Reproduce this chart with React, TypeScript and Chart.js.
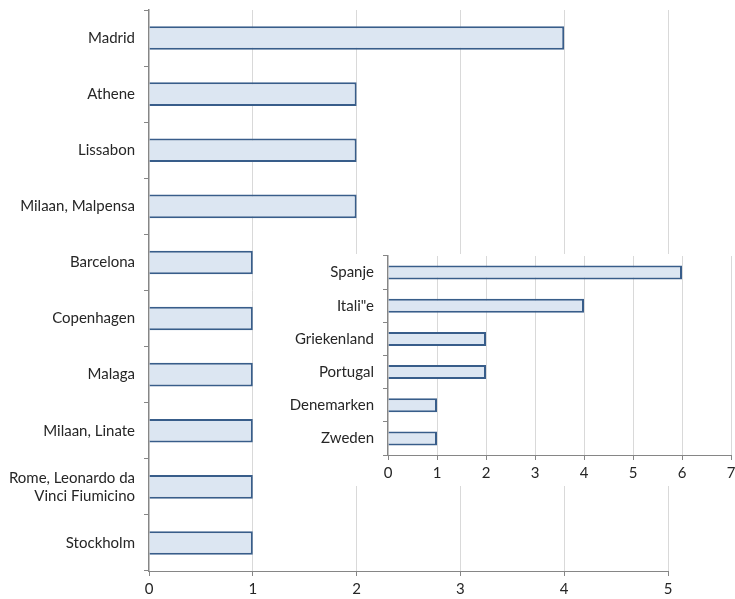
import React, { useEffect, useRef } from "react";
import { Chart, registerables } from "chart.js";

Chart.register(...registerables);

const airports: (string | string[])[] = [
  "Madrid",
  "Athene",
  "Lissabon",
  "Milaan, Malpensa",
  "Barcelona",
  "Copenhagen",
  "Malaga",
  "Milaan, Linate",
  ["Rome, Leonardo da", "Vinci Fiumicino"],
  "Stockholm",
];
const airportCounts = [4, 2, 2, 2, 1, 1, 1, 1, 1, 1];
const mainTickMax = 5;

const countries = ["Spanje", "Itali\"e", "Griekenland", "Portugal", "Denemarken", "Zweden"];
const countryCounts = [6, 4, 2, 2, 1, 1];
const insetTickMax = 7;

const FONT = { family: "Lato, 'Open Sans', sans-serif", size: 15 };
const TEXT = "#262626";
const AXIS = "#868686";
const GRID = "#d9d9d9";
const FILL = "#dce6f2";
const EDGE = "#385d8a";

function makeOptions(max: number, pad: any, yWidth: number, xHeight: number): any {
  return {
    indexAxis: "y",
    animation: false,
    responsive: false,
    maintainAspectRatio: false,
    layout: { padding: pad },
    plugins: { legend: { display: false }, tooltip: { enabled: false } },
    scales: {
      x: {
        min: 0,
        max,
        ticks: { stepSize: 1, color: TEXT, font: FONT, padding: 4, maxRotation: 0 },
        grid: {
          color: (c: any) => (c.tick && c.tick.value === 0 ? "rgba(0,0,0,0)" : GRID),
          tickColor: AXIS,
          tickLength: 5,
          lineWidth: 1,
        },
        border: { color: AXIS, width: 1 },
        afterFit: (s: any) => {
          s.height = xHeight;
          s.paddingLeft = 0;
          s.paddingRight = 0;
        },
      },
      y: {
        ticks: { color: TEXT, font: FONT, padding: 9 },
        grid: { offset: true, drawOnChartArea: false, color: AXIS, tickLength: 5 },
        border: { color: AXIS, width: 1.5 },
        afterFit: (s: any) => {
          s.width = yWidth;
          s.paddingTop = 0;
          s.paddingBottom = 0;
        },
      },
    },
  };
}

function dataset(labels: any[], values: number[]): any {
  return {
    labels,
    datasets: [
      {
        data: values,
        backgroundColor: FILL,
        borderColor: EDGE,
        borderWidth: 2,
        barPercentage: 0.42,
        categoryPercentage: 1,
      },
    ],
  };
}

export default function App() {
  const mainRef = useRef<HTMLCanvasElement>(null);
  const insetRef = useRef<HTMLCanvasElement>(null);

  useEffect(() => {
    const main = new Chart(mainRef.current!, {
      type: "bar",
      data: dataset(airports, airportCounts),
      options: makeOptions(mainTickMax, { top: 10, right: 67, bottom: 0, left: 0 }, 149, 28),
    });
    const inset = new Chart(insetRef.current!, {
      type: "bar",
      data: dataset(countries, countryCounts),
      options: makeOptions(insetTickMax, { top: 2, right: 4, bottom: 0, left: 0 }, 108, 31),
    });
    return () => {
      main.destroy();
      inset.destroy();
    };
  }, []);

  return (
    <div style={{ position: "absolute", left: 0, top: 0, width: 735, height: 599, background: "#fff" }}>
      <canvas ref={mainRef} width={735} height={599} style={{ position: "absolute", left: 0, top: 0 }} />
      <canvas
        ref={insetRef}
        width={455}
        height={232}
        style={{ position: "absolute", left: 280, top: 254, background: "#fff" }}
      />
    </div>
  );
}
